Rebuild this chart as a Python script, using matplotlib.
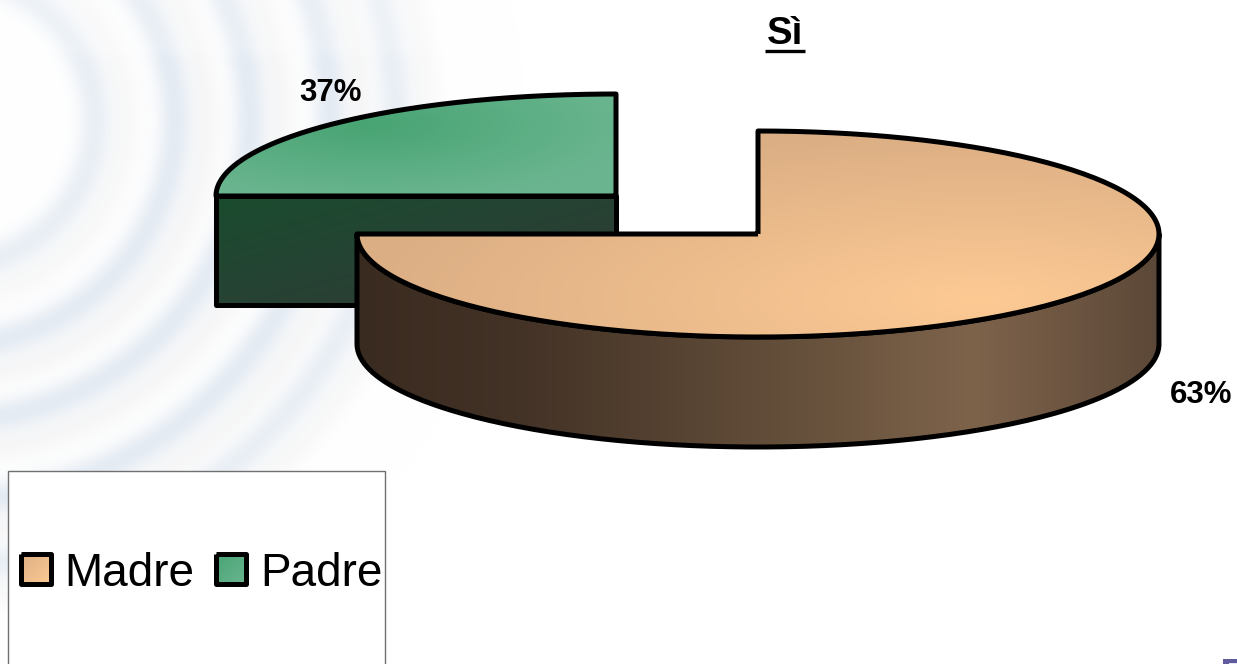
import matplotlib

matplotlib.use("Agg")
import matplotlib.pyplot as plt
import numpy as np
from matplotlib.colors import to_rgb
from matplotlib.patches import PathPatch, Rectangle
from matplotlib.path import Path

W, H = 1237, 664
INK = "#000000"
FONT = "Liberation Sans"
EDGE = 3.6

categories = ["Madre", "Padre"]
# the slices as drawn cover 3/4 and 1/4 of the ellipse, the labels say otherwise
drawn_shares = [75, 25]
value_labels = ["63%", "37%"]
title = "Sì"

ring_radii = [145, 225, 300, 380, 445]
ring_strength = [0.8, 1.0, 1.0, 1.0, 0.8]


def blend(stops, t):
    """Piecewise colour ramp, stops is [(pos, hex), ...]."""
    pos = [s[0] for s in stops]
    rgb = np.array([to_rgb(s[1]) for s in stops])
    return np.dstack([np.interp(t, pos, rgb[:, i]) for i in range(3)])


def gradient_patch(ax, verts, tfunc, stops):
    verts = np.asarray(verts)
    x0, y0 = verts.min(axis=0)
    x1, y1 = verts.max(axis=0)
    xx, yy = np.meshgrid(np.linspace(x0, x1, 300), np.linspace(y0, y1, 200))
    im = ax.imshow(blend(stops, tfunc(xx, yy)), extent=(x0, x1, y1, y0),
                   origin="upper", aspect="auto", zorder=ax.zbase)
    patch = PathPatch(Path(np.vstack([verts, verts[0]])), facecolor="none",
                      edgecolor=INK, linewidth=EDGE, joinstyle="round", zorder=ax.zbase + 0.1)
    ax.add_patch(patch)
    im.set_clip_path(patch)
    ax.zbase += 1


def arc(cx, cy, rx, ry, start, end, n=200):
    th = np.radians(np.linspace(start, end, n))
    # y grows downwards in pixel coordinates
    return np.column_stack([cx + rx * np.cos(th), cy - ry * np.sin(th)])


fig = plt.figure(figsize=(W / 100, H / 100), dpi=100)
ax = fig.add_axes([0, 0, 1, 1])
ax.axis("off")
ax.zbase = 2

# background swirl
xx, yy = np.meshgrid(np.arange(W), np.arange(H))
rad = np.hypot(xx + 50, yy - 120)
blue = np.zeros_like(rad)
grey = np.zeros_like(rad)
for r, s in zip(ring_radii, ring_strength):
    blue += s * np.exp(-((rad - r) / 17) ** 2)
    grey += s * np.exp(-((rad - r - 30) / 17) ** 2)
blue = np.clip(blue, 0, 1)[..., None]
grey = np.clip(grey, 0, 1)[..., None] * 0.6
bg = np.ones((H, W, 3))
bg = bg * (1 - grey) + np.array(to_rgb("#f2f2f2")) * grey
bg = bg * (1 - blue) + np.array(to_rgb("#e4ebf3")) * blue
fade = np.clip(yy / 60, 0.8, 1)[..., None]
bg = 1 - (1 - bg) * fade
ax.imshow(bg, extent=(0, W, H, 0), origin="upper", aspect="auto", zorder=0)

# the exploded slice sits behind and to the left
sweep_main = drawn_shares[0] / sum(drawn_shares) * 360
m_cx, m_cy, m_rx, m_ry, m_depth = 758, 234, 401, 103, 110
g_cx, g_cy, g_rx, g_ry, g_depth = 616, 196, 400, 102, 109
split = 90 - sweep_main

gradient_patch(
    ax,
    [(g_cx - g_rx, g_cy), (g_cx, g_cy), (g_cx, g_cy + g_depth), (g_cx - g_rx, g_cy + g_depth)],
    lambda x, y: np.clip((x - 216) / 400 * 0.6 + (y - 196) / 109 * 0.6, 0, 1),
    [(0, "#1a4c2f"), (1, "#2e3c36")],
)
gradient_patch(
    ax,
    np.vstack([[(g_cx, g_cy)], arc(g_cx, g_cy, g_rx, g_ry, split + 360, 90)]),
    lambda x, y: np.clip(np.hypot((x - 370) / 260, (y - 125) / 75), 0, 1),
    [(0, "#48a473"), (1, "#6ab58f")],
)

front = np.vstack([
    arc(m_cx, m_cy, m_rx, m_ry, 180, 360),
    arc(m_cx, m_cy + m_depth, m_rx, m_ry, 360, 180),
])
gradient_patch(
    ax, front,
    lambda x, y: (x - 357) / 802,
    [(0, "#3a2b20"), (0.2, "#433226"), (0.55, "#65503b"), (0.77, "#7e634b"), (1, "#5c4838")],
)
gradient_patch(
    ax,
    np.vstack([[(m_cx, m_cy)], arc(m_cx, m_cy, m_rx, m_ry, 90, split)]),
    lambda x, y: np.clip(np.hypot((x - 980) / 620, (y - 300) / 170), 0, 1),
    [(0, "#fdca94"), (1, "#dbae84")],
)

# labels
ax.text(785, 34, title, family=FONT, fontsize=27.5, fontweight="bold", ha="center", va="center",
        color=INK, zorder=20)
ax.plot([765, 805], [51, 51], color=INK, linewidth=2.4, solid_capstyle="butt", zorder=20)
ax.text(1201, 395, value_labels[0], family=FONT, fontsize=22.5, fontweight="bold", ha="center",
        va="center", color=INK, zorder=20)
ax.text(331, 93, value_labels[1], family=FONT, fontsize=22.5, fontweight="bold", ha="center",
        va="center", color=INK, zorder=20)

# legend box runs off the bottom of the slide
ax.add_patch(Rectangle((8, 471), 377, 200, facecolor="white", edgecolor="#707070",
                       linewidth=1.0, zorder=20))
key_stops = [[(0, "#dbae84"), (1, "#fdca94")], [(0, "#48a473"), (1, "#6ab58f")]]
ax.zbase = 21
for name, kx, tx, stops in zip(categories, [20.5, 215.5], [64, 260], key_stops):
    box = [(kx, 553.5), (kx + 30, 553.5), (kx + 30, 583.5), (kx, 583.5)]
    gradient_patch(ax, box, lambda x, y, k=kx: np.clip(((x - k) + (y - 554)) / 60, 0, 1), stops)
    ax.text(tx, 569, name, family=FONT, fontsize=33, ha="left", va="center_baseline",
            color=INK, zorder=30)

# corner of the slide logo
ax.add_patch(Rectangle((1223, 659), 14, 6, facecolor="#5f5b9c", edgecolor="none", zorder=20))
ax.add_patch(Rectangle((1229, 663), 8, 2, facecolor="#e8e8f2", edgecolor="none", zorder=21))

ax.set_xlim(0, W)
ax.set_ylim(H, 0)
fig.savefig("out.png", dpi=100, facecolor="white")
